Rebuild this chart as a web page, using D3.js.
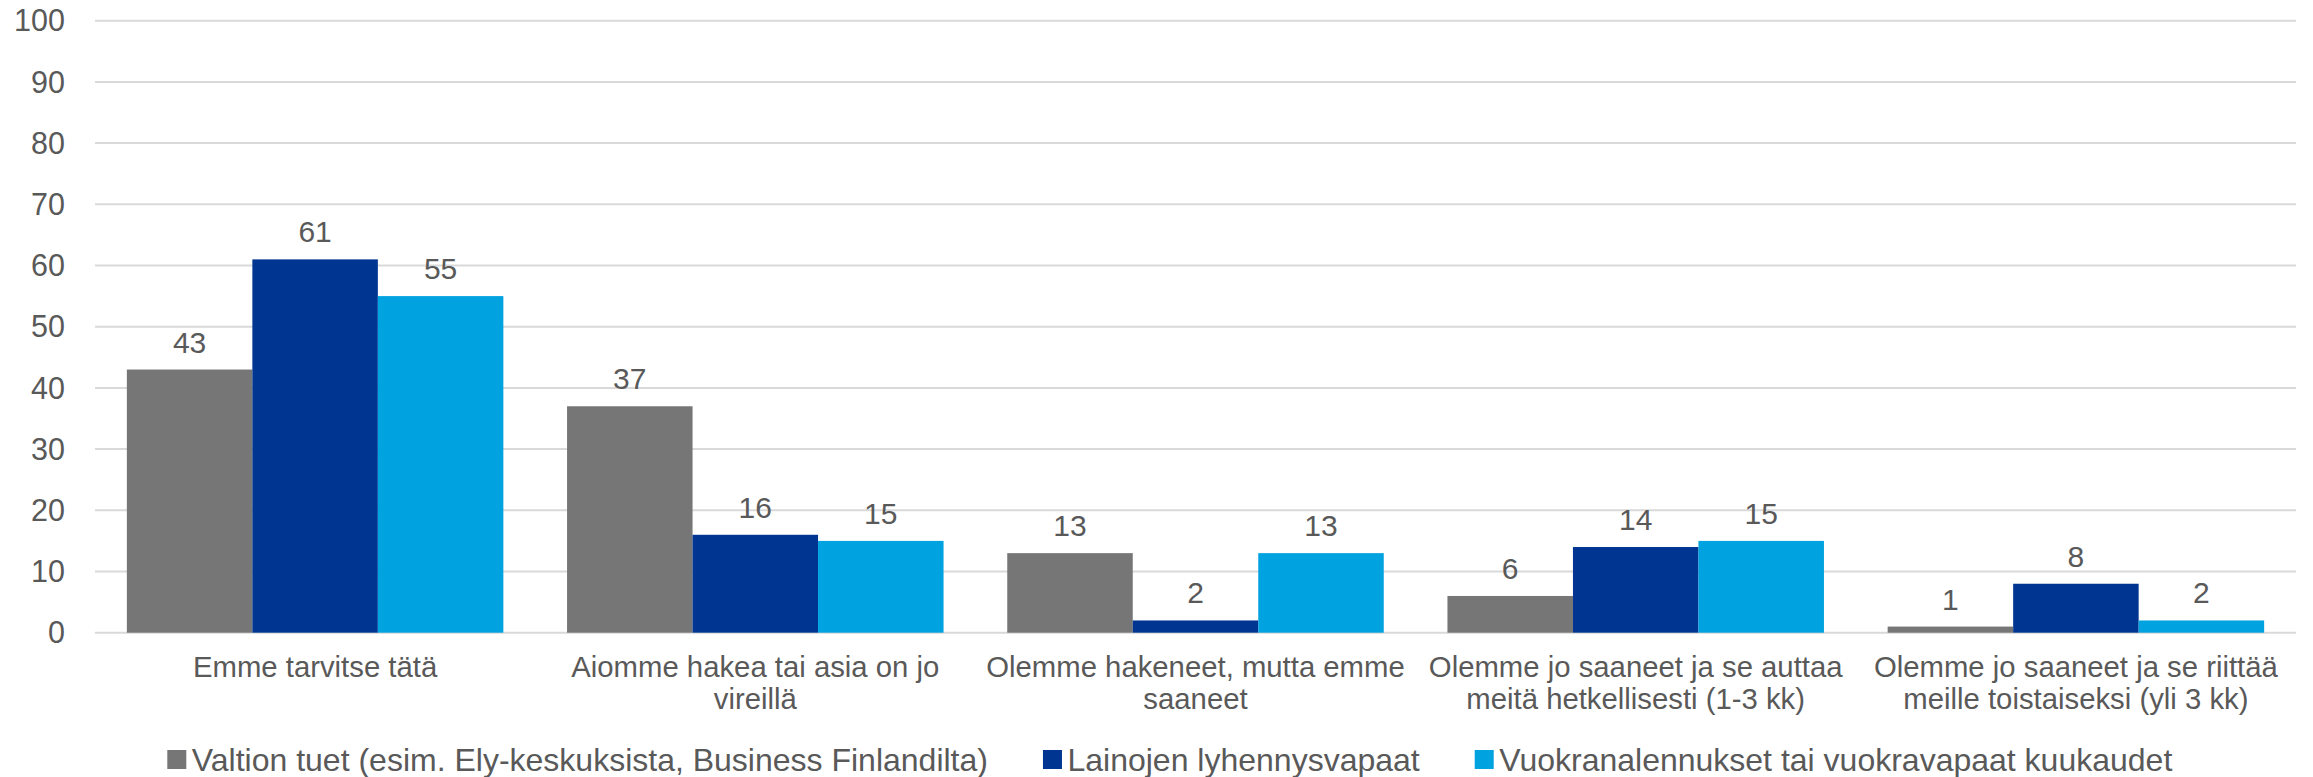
<!DOCTYPE html>
<html>
<head>
<meta charset="utf-8">
<script src="https://cdn.jsdelivr.net/npm/d3@7"></script>
<style>
  html, body { margin: 0; padding: 0; background: #fff; }
  svg { display: block; }
  text { font-family: "Liberation Sans", Arial, sans-serif; fill: #595959; }
</style>
</head>
<body>
<svg id="chart" width="2313" height="777"></svg>
<script>
const categories = [
  "Emme tarvitse tätä",
  "Aiomme hakea tai asia on jo vireillä",
  "Olemme hakeneet, mutta emme saaneet",
  "Olemme jo saaneet ja se auttaa meitä hetkellisesti (1-3 kk)",
  "Olemme jo saaneet ja se riittää meille toistaiseksi (yli 3 kk)"
];
const seriesNames = [
  "Valtion tuet (esim. Ely-keskuksista, Business Finlandilta)",
  "Lainojen lyhennysvapaat",
  "Vuokranalennukset tai vuokravapaat kuukaudet"
];
const valtionTuet = [43, 37, 13, 6, 1];
const lainojenLyhennysvapaat = [61, 16, 2, 14, 8];
const vuokranalennukset = [55, 15, 13, 15, 2];
const yTicks = [0, 10, 20, 30, 40, 50, 60, 70, 80, 90, 100];
const colors = ["#767676", "#003591", "#00A2E0"];

const seriesValues = [valtionTuet, lainojenLyhennysvapaat, vuokranalennukset];
const FS = 29.3;

const svg = d3.select("#chart");
const x0 = d3.scaleBand().domain(categories).range([95, 2296]).padding(0);
const bw = x0.bandwidth();
const edge = 31.85;
const x1 = d3.scaleBand().domain(seriesNames).range([edge, bw - edge]).padding(0);
const y = d3.scaleLinear().domain([0, 100]).range([632.7, 20.7]);

// gridlines
svg.append("g").selectAll("line").data(yTicks).join("line")
  .attr("x1", 95).attr("x2", 2296)
  .attr("y1", d => y(d)).attr("y2", d => y(d))
  .attr("stroke", "#D9D9D9").attr("stroke-width", 2);

// y labels
svg.append("g").selectAll("text").data(yTicks).join("text")
  .attr("x", 65).attr("y", d => y(d)).attr("dy", "0.35em")
  .attr("text-anchor", "end").attr("font-size", 30.5)
  .text(d => d);

// bars
const groups = svg.append("g").selectAll("g").data(categories).join("g")
  .attr("transform", d => `translate(${x0(d)},0)`);

groups.each(function(cat, ci) {
  const g = d3.select(this);
  seriesNames.forEach((s, si) => {
    const v = seriesValues[si][ci];
    g.append("rect")
      .attr("x", x1(s)).attr("width", x1.bandwidth())
      .attr("y", y(v)).attr("height", y(0) - y(v))
      .attr("fill", colors[si]);
    g.append("text")
      .attr("x", x1(s) + x1.bandwidth() / 2)
      .attr("y", y(v) - 17)
      .attr("text-anchor", "middle").attr("font-size", 30)
      .text(v);
  });
});

// category labels with wrapping
const maxW = bw;
groups.each(function(cat) {
  const g = d3.select(this);
  const t = g.append("text")
    .attr("text-anchor", "middle").attr("font-size", FS)
    .attr("x", bw / 2).attr("y", 676.5);
  const words = cat.split(" ");
  let lines = [];
  let cur = [];
  const probe = svg.append("text").attr("font-size", FS);
  words.forEach(w => {
    const test = cur.concat([w]).join(" ");
    probe.text(test);
    if (probe.node().getComputedTextLength() > maxW - 20 && cur.length) {
      lines.push(cur.join(" "));
      cur = [w];
    } else {
      cur.push(w);
    }
  });
  lines.push(cur.join(" "));
  probe.remove();
  lines.forEach((l, i) => {
    t.append("tspan").attr("x", bw / 2).attr("y", 676.5 + i * 32.5).text(l);
  });
});

// legend
const legend = svg.append("g");
let lx = 167.3;
seriesNames.forEach((s, si) => {
  legend.append("rect").attr("x", lx).attr("y", 750).attr("width", 19).attr("height", 19)
    .attr("fill", colors[si]);
  const t = legend.append("text").attr("x", lx + 24.5).attr("y", 771)
    .attr("font-size", 32).text(s);
  lx = lx + 24.5 + t.node().getComputedTextLength() + 55;
});
</script>
</body>
</html>
